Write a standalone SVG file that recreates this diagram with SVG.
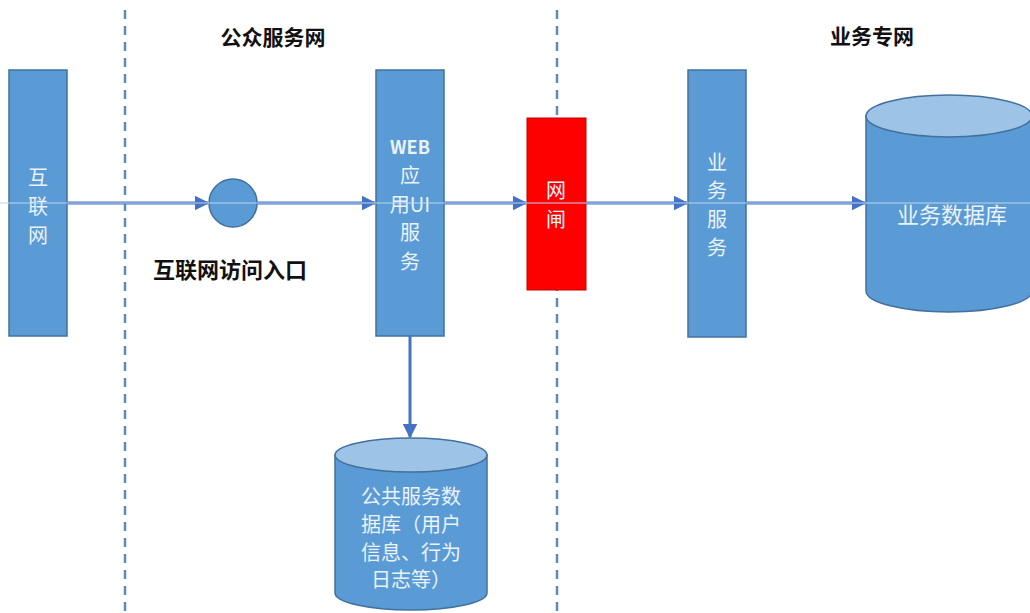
<svg xmlns="http://www.w3.org/2000/svg" width="1030" height="613" viewBox="0 0 1030 613">
<style>
.box{fill:#5B9BD5;stroke:#41719C;stroke-width:1.5}
.top{fill:#9DC3E6;stroke:#41719C;stroke-width:1.5}
.wt{fill:#EAF2FA;font-family:"Noto Sans CJK SC","Liberation Sans",sans-serif;font-size:20px;text-anchor:middle}
.bt{fill:#111;font-family:"Noto Sans CJK SC",sans-serif;font-size:21px;font-weight:bold;text-anchor:middle}
.div{stroke:#5B8DB8;stroke-width:2.5;stroke-dasharray:9,7;fill:none}
.arr{stroke:#4472C4;stroke-width:3;fill:none;marker-end:url(#ah)}
</style>
<defs>
<marker id="ah" viewBox="0 0 10 10" refX="9" refY="5" markerWidth="5" markerHeight="5" orient="auto" markerUnits="strokeWidth">
<path d="M0,0 L10,5 L0,10 z" fill="#4472C4"/>
</marker>
</defs>
<rect width="1030" height="613" fill="#fff"/>
<g id="dividers">
<line class="div" x1="125" y1="10" x2="125" y2="613"/>
<line class="div" x1="557" y1="10" x2="557" y2="613"/>
</g>
<g id="titles">
<text class="bt" x="273" y="45">公众服务网</text>
<text class="bt" x="872" y="44">业务专网</text>
<text class="bt" x="230" y="278" style="font-size:22px">互联网访问入口</text>
</g>
<g id="internet">
<rect class="box" x="9" y="70" width="58" height="266"/>
<text class="wt" x="38" y="185">互</text>
<text class="wt" x="38" y="214">联</text>
<text class="wt" x="38" y="243">网</text>
</g>
<g id="entry">
<circle class="box" cx="233" cy="203" r="24"/>
</g>
<g id="web">
<rect class="box" x="376" y="70" width="68" height="266"/>
<text class="wt" x="410" y="154" style="font-weight:bold;font-size:18px">WEB</text>
<text class="wt" x="410" y="183">应</text>
<text class="wt" x="410" y="212">用UI</text>
<text class="wt" x="410" y="240">服</text>
<text class="wt" x="410" y="269">务</text>
</g>
<g id="gateway">
<rect x="527" y="118" width="59" height="172" fill="#FF0000" stroke="#C00000" stroke-width="1"/>
<text class="wt" x="556" y="198">网</text>
<text class="wt" x="556" y="227">闸</text>
</g>
<g id="bizsvc">
<rect class="box" x="688" y="70" width="58" height="267"/>
<text class="wt" x="717" y="170">业</text>
<text class="wt" x="717" y="198">务</text>
<text class="wt" x="717" y="227">服</text>
<text class="wt" x="717" y="255">务</text>
</g>
<g id="bizdb">
<path class="box" d="M866,116 L866,291 A83,21 0 0 0 1032,291 L1032,116 Z"/>
<ellipse class="top" cx="949" cy="116" rx="83" ry="21"/>
<text class="wt" x="952" y="223" style="font-size:22px">业务数据库</text>
</g>
<g id="pubdb">
<path class="box" d="M335,455 L335,593 A76,17 0 0 0 487,593 L487,455 Z"/>
<ellipse class="top" cx="411" cy="455" rx="76" ry="17"/>
<text class="wt" x="411" y="504">公共服务数</text>
<text class="wt" x="411" y="532">据库（用户</text>
<text class="wt" x="411" y="560">信息、行为</text>
<text class="wt" x="411" y="587">日志等）</text>
</g>
<g id="connectors">
<line class="arr" x1="67" y1="203" x2="208" y2="203"/>
<line class="arr" x1="257" y1="203" x2="375" y2="203"/>
<line class="arr" x1="444" y1="203" x2="526" y2="203"/>
<line class="arr" x1="586" y1="203" x2="687" y2="203"/>
<line class="arr" x1="746" y1="203" x2="865" y2="203"/>
<line class="arr" x1="410" y1="336" x2="410" y2="437"/>
<line x1="0" y1="203" x2="1030" y2="203" stroke="#BDD7EE" stroke-width="1"/>
</g>
</svg>
